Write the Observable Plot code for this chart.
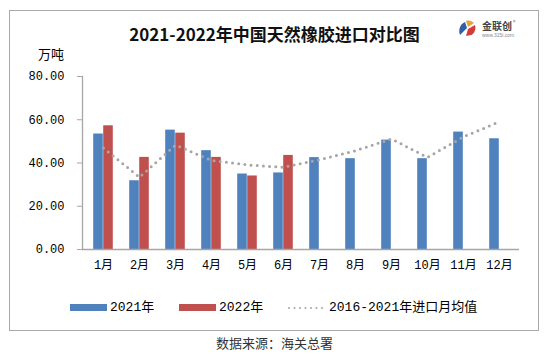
<!DOCTYPE html>
<html>
<head>
<meta charset="utf-8">
<script src="https://cdn.jsdelivr.net/npm/d3@7"></script>
<script src="https://cdn.jsdelivr.net/npm/@observablehq/plot@0.6"></script>
<style>
  body { margin: 0; background: #fff; width: 549px; height: 354px; position: relative; overflow: hidden;
         font-family: "Liberation Mono", "Noto Sans CJK SC", monospace; color: #000; }
  .abs { position: absolute; white-space: nowrap; }
  #frame { left: 9px; top: 10px; width: 528px; height: 319px; border: 1px solid #a9a9a9; }
  #title { left: 0; width: 549px; top: 23px; text-align: center; font-family: "Noto Sans CJK SC", sans-serif;
           font-size: 17px; font-weight: bold; line-height: 22px; color: #111; padding-left: 0; }
  #unit { left: 38px; top: 46px; font-family: "Noto Sans CJK SC", sans-serif; font-size: 13px; line-height: 16px; }
  #chart { left: 0; top: 44px; }
  #legend { left: 0; top: 299px; height: 18px; font-size: 13px; line-height: 18px; }
  .sw { position: absolute; top: 5px; height: 7px; }
  .lt { position: absolute; top: 0; }
  #caption { left: 0; width: 549px; top: 335px; text-align: center; font-family: "Noto Sans CJK SC", sans-serif;
             font-size: 13px; line-height: 16px; color: #333; padding-left: 0; }
  #logo { left: 458px; top: 19px; }
</style>
</head>
<body>
<div id="frame" class="abs"></div>
<div id="title" class="abs"></div>
<div id="unit" class="abs"></div>
<div id="logo" class="abs">
  <svg width="70" height="20" viewBox="0 0 70 20">
    <path d="M2,16 C0,11 2,5 7,3 L9,9 Z" fill="#2f5fa8"/>
    <path d="M8,2 C11,1 14,2 16,4 L10,8 Z" fill="#e8a23a"/>
    <path d="M10,10 L17,6 C18,10 17,14 13,16 L8,17 Z" fill="#d63b3b"/>
    <text x="24" y="11" font-family="Noto Sans CJK SC" font-size="10" font-weight="bold" fill="#444">金联创</text>
    <text x="55" y="5" font-family="Noto Sans CJK SC" font-size="5" fill="#666">®</text>
    <text x="24" y="18" font-family="Liberation Sans" font-size="5" fill="#888">www.315i.com</text>
  </svg>
</div>
<div id="chart" class="abs"></div>
<div id="legend" class="abs"></div>
<div id="caption" class="abs"></div>
<script>
const titleText = "2021-2022年中国天然橡胶进口对比图";
const unitText = "万吨";
const captionText = "数据来源：海关总署";
const months = ["1月","2月","3月","4月","5月","6月","7月","8月","9月","10月","11月","12月"];
const imports2021 = [53.4, 31.8, 55.2, 45.7, 34.9, 35.4, 42.5, 42.0, 50.6, 42.0, 54.3, 51.2];
const imports2022 = [57.2, 42.6, 53.8, 42.6, 34.0, 43.5];
const avg2016to2021 = [46.9, 33.4, 48.3, 41.2, 39.1, 38.0, 41.5, 45.7, 51.1, 42.6, 52.1, 59.1];
const yTicks = [0, 20, 40, 60, 80];
const seriesNames = ["2021年", "2022年", "2016-2021年进口月均值"];
const colors = ["#4f81bd", "#c0504d", "#a6a6a6"];

document.getElementById("title").textContent = titleText;
document.getElementById("unit").textContent = unitText;
document.getElementById("caption").textContent = captionText;

const data2021 = months.map((m, i) => ({month: m, value: imports2021[i]}));
const data2022 = imports2022.map((v, i) => ({month: months[i], value: v}));
const dataAvg = months.map((m, i) => ({month: m, value: avg2016to2021[i]}));

const W = 549, H = 236, mL = 82, mR = 30, mT = 32, mB = 31;
const band = (W - mL - mR) / months.length;
const barW = 10;
const outer = band / 2 - barW;

const chart = Plot.plot({
  width: W, height: H,
  marginLeft: mL, marginRight: mR, marginTop: mT, marginBottom: mB,
  style: {fontFamily: '"Liberation Mono", "Noto Sans CJK SC", monospace', fontSize: "12px", color: "#000", background: "transparent"},
  x: {type: "band", domain: months, padding: 0},
  y: {domain: [0, 80]},
  marks: [
    Plot.barY(data2021, {x: "month", y: "value", fill: colors[0], insetLeft: outer, insetRight: band / 2}),
    Plot.barY(data2022, {x: "month", y: "value", fill: colors[1], insetLeft: band / 2, insetRight: outer}),
    Plot.line(dataAvg, {x: "month", y: "value", stroke: colors[2], strokeWidth: 3, strokeDasharray: "0,6.2", strokeLinecap: "round"}),
    Plot.ruleY([0], {stroke: "#a6a6a6", strokeWidth: 1.3}),
    Plot.frame({anchor: "left", stroke: "#a6a6a6", strokeWidth: 1.3}),
    Plot.axisY({ticks: yTicks, tickFormat: d3.format(".2f"), tickSize: 5, tickPadding: 13, stroke: "#a6a6a6", label: null, fill: "#000", fontSize: 12}),
    Plot.axisX({tickSize: 0, tickPadding: 11, label: null, fill: "#000", fontSize: 12})
  ]
});
document.getElementById("chart").appendChild(chart);

// Legend
const legend = document.getElementById("legend");
const items = [
  {name: seriesNames[0], color: colors[0], kind: "bar", sx: 70, tx: 110},
  {name: seriesNames[1], color: colors[1], kind: "bar", sx: 179, tx: 219},
  {name: seriesNames[2], color: colors[2], kind: "dot", sx: 287, tx: 329}
];
for (const it of items) {
  if (it.kind === "bar") {
    const s = document.createElement("div");
    s.className = "sw";
    s.style.left = it.sx + "px";
    s.style.width = "37px";
    s.style.background = it.color;
    legend.appendChild(s);
  } else {
    const ns = "http://www.w3.org/2000/svg";
    const svg = document.createElementNS(ns, "svg");
    svg.setAttribute("width", "40"); svg.setAttribute("height", "18");
    svg.style.position = "absolute"; svg.style.left = it.sx + "px"; svg.style.top = "0px";
    const l = document.createElementNS(ns, "line");
    l.setAttribute("x1", "2"); l.setAttribute("x2", "36"); l.setAttribute("y1", "9"); l.setAttribute("y2", "9");
    l.setAttribute("stroke", it.color); l.setAttribute("stroke-width", "2");
    l.setAttribute("stroke-dasharray", "0,5.5"); l.setAttribute("stroke-linecap", "round");
    svg.appendChild(l);
    legend.appendChild(svg);
  }
  const t = document.createElement("div");
  t.className = "lt";
  t.style.left = it.tx + "px";
  t.textContent = it.name;
  legend.appendChild(t);
}
</script>
</body>
</html>
